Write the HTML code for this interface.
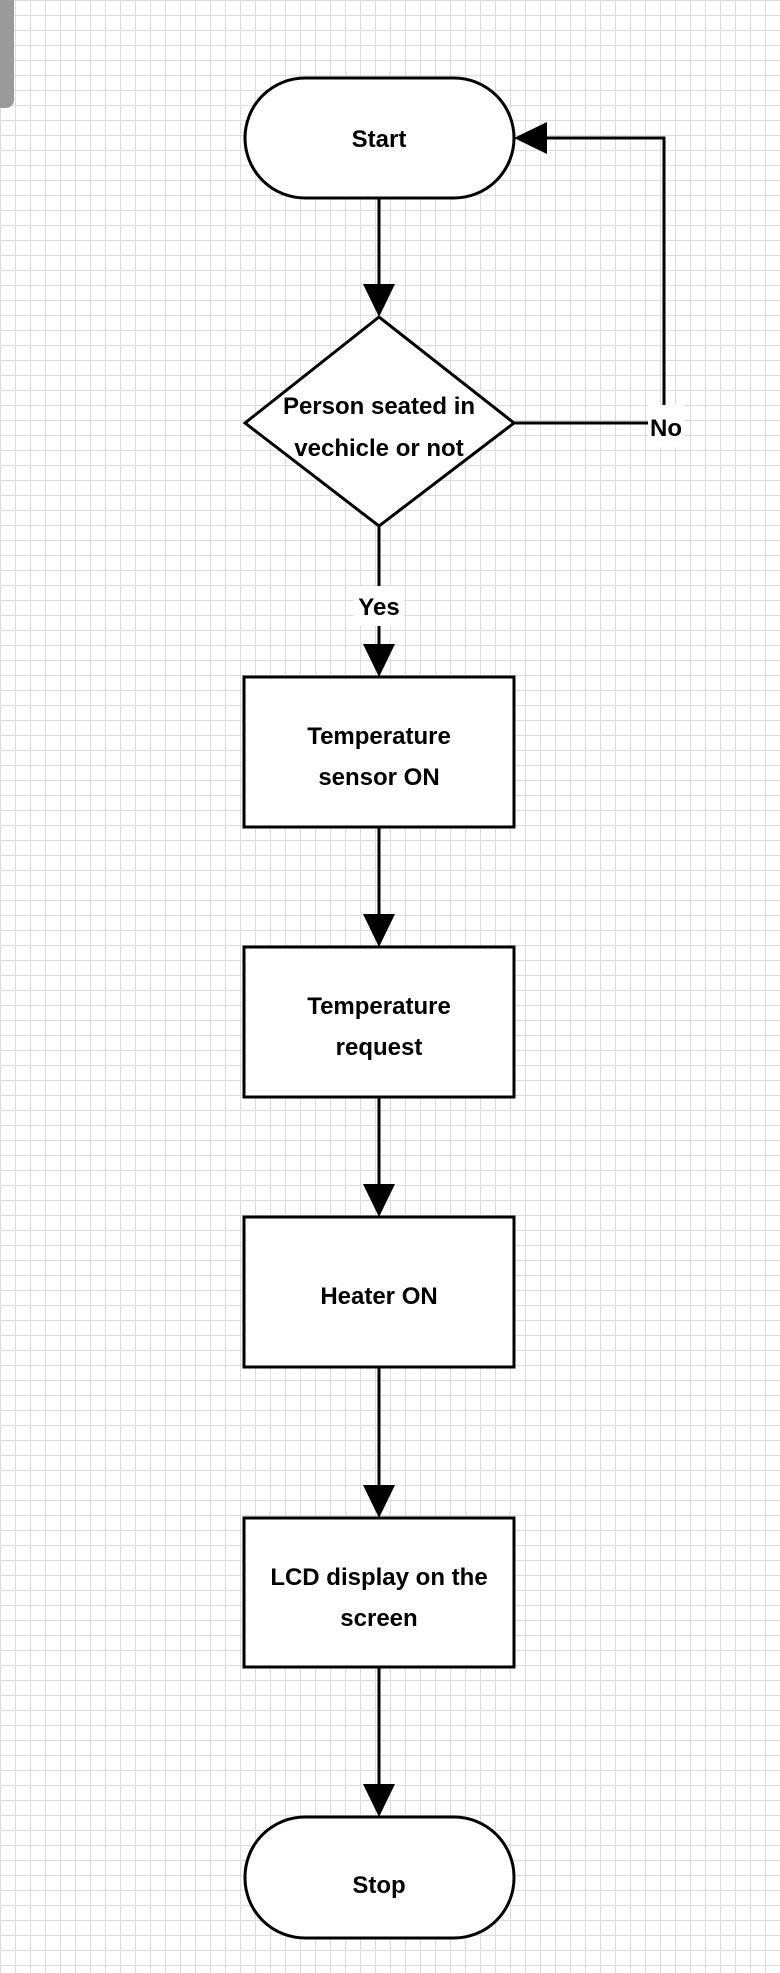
<!DOCTYPE html>
<html><head><style>
html,body{margin:0;padding:0;}
body{width:780px;height:1973px;background-color:#fff;
background-image:linear-gradient(#dcdcdc 1px,transparent 1px),linear-gradient(90deg,#dcdcdc 1px,transparent 1px);
background-size:15px 15px;overflow:hidden;}
svg text{font-family:"Liberation Sans",sans-serif;font-size:24px;font-weight:bold;fill:#000;text-anchor:middle;}
</style></head><body>
<div style="position:absolute;left:0;top:0;width:14px;height:108px;background:#9a9a9a;border-radius:0 0 8px 0"></div>
<svg width="780" height="1973" style="position:absolute;left:0;top:0">
<g stroke="#000" stroke-width="3" fill="#fff">
<rect x="245" y="78" width="269" height="120" rx="60"/>
<polygon points="379,317 514,423 379,526 245,423"/>
<rect x="244" y="677" width="270" height="150"/>
<rect x="244" y="947" width="270" height="150"/>
<rect x="244" y="1217" width="270" height="150"/>
<rect x="244" y="1518" width="270" height="149"/>
<rect x="245" y="1817" width="269" height="121" rx="60"/>
<g fill="none">
<line x1="379" y1="198" x2="379" y2="286"/>
<line x1="379" y1="526" x2="379" y2="646"/>
<line x1="379" y1="827" x2="379" y2="915"/>
<line x1="379" y1="1097" x2="379" y2="1185"/>
<line x1="379" y1="1367" x2="379" y2="1486"/>
<line x1="379" y1="1667" x2="379" y2="1785"/>
<polyline points="514,423 664,423 664,138 546,138"/>
</g>
</g>
<g fill="#000">
<polygon points="363,284 395,284 379,317"/>
<polygon points="363,644 395,644 379,677"/>
<polygon points="363,914 395,914 379,947"/>
<polygon points="363,1184 395,1184 379,1217"/>
<polygon points="363,1485 395,1485 379,1518"/>
<polygon points="363,1784 395,1784 379,1817"/>
<polygon points="547,122 547,154 514,138"/>
</g>
<rect x="648" y="405" width="36" height="42" fill="#fff"/>
<rect x="354" y="586" width="50" height="40" fill="#fff"/>
<text x="379" y="147">Start</text>
<text x="379" y="414">Person seated in</text>
<text x="379" y="456">vechicle or not</text>
<text x="666" y="436">No</text>
<text x="379" y="615">Yes</text>
<text x="379" y="744">Temperature</text>
<text x="379" y="785">sensor ON</text>
<text x="379" y="1014">Temperature</text>
<text x="379" y="1055">request</text>
<text x="379" y="1304">Heater ON</text>
<text x="379" y="1585">LCD display on the</text>
<text x="379" y="1626">screen</text>
<text x="379" y="1893">Stop</text>
</svg>
</body></html>
